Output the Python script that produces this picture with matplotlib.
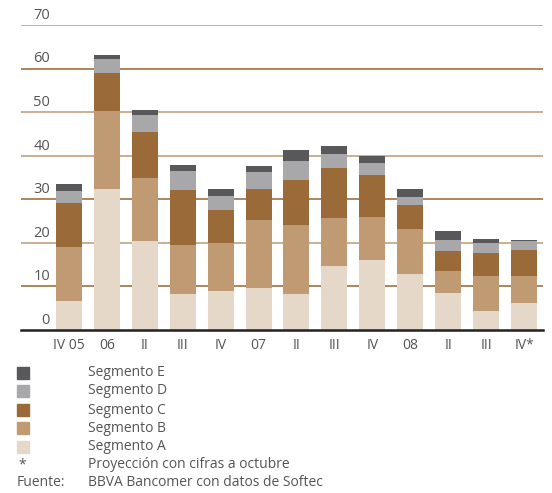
import numpy as np
import matplotlib
matplotlib.use("Agg")
import matplotlib.pyplot as plt

plt.rcParams["font.family"] = ["Open Sans", "DejaVu Sans"]

quarters = ["IV 05", "06", "II", "III", "IV", "07", "II", "III", "IV", "08", "II", "III", "IV*"]
seg_a = [6.7, 32.4, 20.4, 8.3, 9.0, 9.6, 8.3, 14.7, 16.1, 12.9, 8.5, 4.4, 6.2]
seg_b = [12.4, 17.9, 14.5, 11.2, 11.0, 15.6, 15.8, 11.0, 9.8, 10.3, 5.0, 8.0, 6.2]
seg_c = [10.1, 8.7, 10.5, 12.6, 7.5, 7.2, 10.3, 11.5, 9.7, 5.5, 4.6, 5.3, 6.0]
seg_d = [2.6, 3.2, 3.9, 4.4, 3.3, 3.9, 4.4, 3.2, 2.7, 1.8, 2.6, 2.3, 2.0]
seg_e = [1.6, 0.9, 1.2, 1.4, 1.6, 1.3, 2.5, 1.8, 1.6, 1.9, 2.0, 0.9, 0.3]

seg_names = ["Segmento A", "Segmento B", "Segmento C", "Segmento D", "Segmento E"]
seg_colors = ["#e5d8c8", "#bf9a72", "#9a6b38", "#a8a8aa", "#58585a"]
yticks = [0, 10, 20, 30, 40, 50, 60, 70]

txt = "#555555"

fig = plt.figure(figsize=(5.52, 4.93), dpi=100)
ax = fig.add_axes([21 / 552, 163 / 493, 522 / 552, 305 / 493])

x = np.arange(len(quarters))
bottom = np.zeros(len(quarters))
for vals, col in zip([seg_a, seg_b, seg_c, seg_d, seg_e], seg_colors):
    ax.bar(x, vals, 0.684, bottom=bottom, color=col, zorder=3)
    bottom += np.array(vals)

for t in yticks:
    if t > 0:
        gc = "#a67c4e" if t in (10, 30, 60) else "#c6a886"
        ax.axhline(t, color=gc, lw=1.3, zorder=1)
    ax.text(29 / 522, t + 0.5, str(t), transform=ax.get_yaxis_transform(),
            ha="right", va="bottom", fontsize=10.5, color=txt, zorder=2)

ax.set_xlim(-1.263, 12.5)
ax.set_ylim(0, 70)
for s in ["top", "right", "left"]:
    ax.spines[s].set_visible(False)
ax.spines["bottom"].set_color("#222222")
ax.spines["bottom"].set_linewidth(1.8)
ax.spines["bottom"].set_zorder(4)
ax.set_yticks([])
ax.set_xticks(x)
ax.set_xticklabels(quarters, fontsize=10, color=txt)
ax.tick_params(axis="x", length=0, pad=6)

# legend rows drawn as figure text
rows_y = [373, 391, 410, 428, 447]
for yy, name, col in zip(rows_y, seg_names[::-1], seg_colors[::-1]):
    fig.patches.append(plt.Rectangle((17 / 552, 1 - (yy + 6) / 493), 12 / 552, 12 / 493,
                                     transform=fig.transFigure, color=col))
    fig.text(88 / 552, 1 - yy / 493, name, ha="left", va="center", fontsize=10, color=txt)

fig.text(18 / 552, 1 - 465 / 493, "*", ha="left", va="center", fontsize=10, color=txt)
fig.text(88 / 552, 1 - 465 / 493, "Proyección con cifras a octubre", ha="left", va="center",
         fontsize=10, color=txt)
fig.text(17 / 552, 1 - 483 / 493, "Fuente:", ha="left", va="center", fontsize=10, color=txt)
fig.text(88 / 552, 1 - 483 / 493, "BBVA Bancomer con datos de Softec", ha="left", va="center",
         fontsize=10, color=txt)

fig.savefig("out.png", dpi=100)
